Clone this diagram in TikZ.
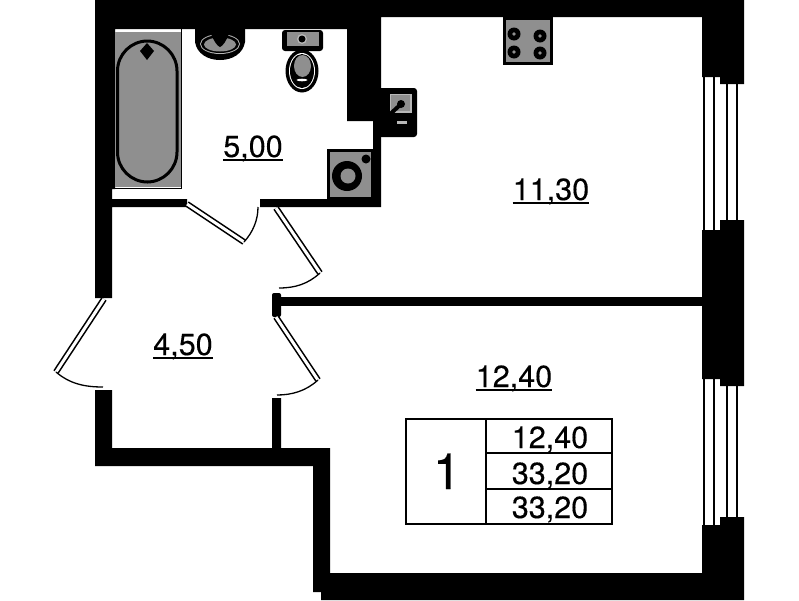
\documentclass[tikz,border=0pt]{standalone}
\usepackage{fontspec}
\setmainfont{TeX Gyre Heros}[BoldFont={TeX Gyre Heros},BoldFeatures={FakeBold=0.3}]
\definecolor{fixgray}{gray}{0.56}
\definecolor{lightgray}{gray}{0.72}
\tikzset{
  wall/.style={fill=black},
  leaf/.style={draw=black,line width=1.6pt,double=white,double distance=3pt},
  swing/.style={draw=black,line width=1.3pt},
  pane/.style={draw=black,line width=1.8pt},
  fixture/.style={fill=fixgray},
  area/.style={anchor=base,inner sep=0pt,font=\fontsize{30.5}{30.5}\selectfont\bfseries},
}
\begin{document}
\begin{tikzpicture}[x=1pt,y=-1pt]
    \useasboundingbox (0,0) rectangle (799,600);

    % Ventanas
    \foreach \wx in {704,714} \draw[pane] (\wx,77) -- (\wx,230);
    \foreach \wx in {704,714} \draw[pane] (\wx,379) -- (\wx,525);
    \foreach \wx in {727,737} \draw[pane] (\wx,84) -- (\wx,220);
    \foreach \wx in {727,737} \draw[pane] (\wx,386) -- (\wx,517);

    % Muros
    \fill[wall] (95,0) -- (744,0) -- (744,84) -- (720,84) -- (720,77) -- (702,77) -- (702,17) -- (381,17)
      -- (381,207) -- (260,207) -- (260,199) -- (373,199) -- (373,121) -- (347,121) -- (347,29) -- (115,29)
      -- (115,189) -- (112,189) -- (112,199) -- (187,199) -- (187,207) -- (112,207) -- (112,298) -- (95,298) -- cycle;
    \fill[wall] (720,220) -- (744,220) -- (744,386) -- (720,386) -- (720,379) -- (702,379) -- (702,230) -- (720,230) -- cycle;
    \fill[wall] (275,297) rectangle (702,306);
    \fill[wall,rounded corners=2pt] (272,293) rectangle (281,317);
    \fill[wall] (95,390) -- (112,390) -- (112,448) -- (272,448) -- (272,398) -- (281,398) -- (281,448) -- (330,448)
      -- (330,573) -- (702,573) -- (702,525) -- (720,525) -- (720,517) -- (744,517) -- (744,600) -- (321,600)
      -- (321,592) -- (313,592) -- (313,466) -- (95,466) -- cycle;

    % Puertas
    \foreach \ax/\ay/\bx/\by in {187/204/244/242, 276/208/320/273, 276/317/318/380, 104/299/56/372}
      \draw[leaf] (\ax,\ay) -- (\bx,\by);
    \draw[swing] (244,242) .. controls (253,232) and (258,220) .. (258,207);
    \draw[swing] (320,273) .. controls (308,284) and (295,288) .. (279,288);
    \draw[swing] (318,380) .. controls (306,391) and (292,395) .. (277,395);
    \draw[swing] (56,372) .. controls (70,384) and (85,387) .. (103,387);

    % Bañera
    \fill[fixture] (115,32) rectangle (181,187);
    \draw[line width=1.5pt] (181.5,29) -- (181.5,188.5) -- (115,188.5);
    \draw[fixture,draw=black,line width=3pt,rounded corners=30pt] (117.5,41) rectangle (177,182);
    \fill (147,43) -- (154,51) -- (147,60) -- (140,51) -- cycle;

    % Lavabo
    \fill (195,29) -- (195,42) .. controls (197,54) and (208,60) .. (220,60) .. controls (232,60) and (243,54) .. (245,42) -- (245,29) -- cycle;
    \fill[lightgray] (220,44) ellipse[x radius=20,y radius=10];
    \fill (220,44) ellipse[x radius=19,y radius=9];
    \fill[fixture] (220,44.5) ellipse[x radius=16,y radius=7];
    \fill (211,34) .. controls (214,41) and (217,46) .. (220,47) .. controls (223,46) and (226,41) .. (229,34) -- cycle;

    % Inodoro
    \fill[rounded corners=3pt] (282,30) rectangle (323,51);
    \fill[fixture] (287,32) rectangle (319,46);
    \fill[lightgray] (302,39) circle[radius=5];
    \fill (302,39) circle[radius=3.5];
    \fill (302,71) ellipse[x radius=16.5,y radius=21.5];
    \fill[white] (302,71) ellipse[x radius=13,y radius=18];
    \fill (302,71) ellipse[x radius=12,y radius=17];
    \fill[fixture] (302.5,66) ellipse[x radius=8.5,y radius=11];
    \fill[white] (302,80) ellipse[x radius=5.5,y radius=1.3];

    % Lavadora
    \fill (327,149) rectangle (373,199);
    \fill[fixture] (330,152) rectangle (371,197);
    \fill (347,176) circle[radius=15];
    \fill[fixture] (348,176) circle[radius=7.5];
    \fill (366,159) circle[radius=4.5];

    % Fregadero
    \fill[rounded corners=3pt] (378,88) rectangle (417,137);
    \fill[lightgray] (389.5,93.5) rectangle (411.5,112.5);
    \fill[fixture] (391,95) rectangle (410,111);
    \draw[line width=4pt] (387,117) -- (400,105);
    \fill (401,104) circle[radius=4];
    \fill[lightgray] (397,121) rectangle (407,124);

    % Cocina
    \draw[fixture,draw=black,line width=3pt] (504.5,18.5) rectangle (551,63.5);
    \foreach \bx/\by in {514/34,540/36,514/52,540/53} {
      \fill (\bx,\by) circle[radius=6.5];
      \fill[fixgray] (\bx,\by) circle[radius=1.8];
    }

    % Superficies
    \foreach \nm/\px/\py/\val in {bath/253/157/{5,00}, kitchen/551/200/{11,30}, hall/183/355/{4,50}, bedroom/514/387/{12,40}} {
      \node[area] (\nm) at (\px,\py) {\val};
      \draw[line width=1.5pt] ([yshift=-3pt]\nm.base west) -- ([yshift=-3pt]\nm.base east);
    }

    % Tabla
    \draw[line width=1.6pt] (406,419) rectangle (612,524);
    \draw[line width=1.6pt] (486,419) -- (486,524);
    \draw[line width=1.6pt] (486,453) -- (612,453);
    \draw[line width=1.6pt] (486,489) -- (612,489);
    \node[anchor=base,inner sep=0pt,font=\fontsize{50}{50}\selectfont\bfseries] (rooms) at (447,489) {1};
    \node[area] (living) at (550,448) {12,40};
    \node[area] (total) at (550,484) {33,20};
    \node[area] (gross) at (550,518) {33,20};
\end{tikzpicture}
\end{document}
